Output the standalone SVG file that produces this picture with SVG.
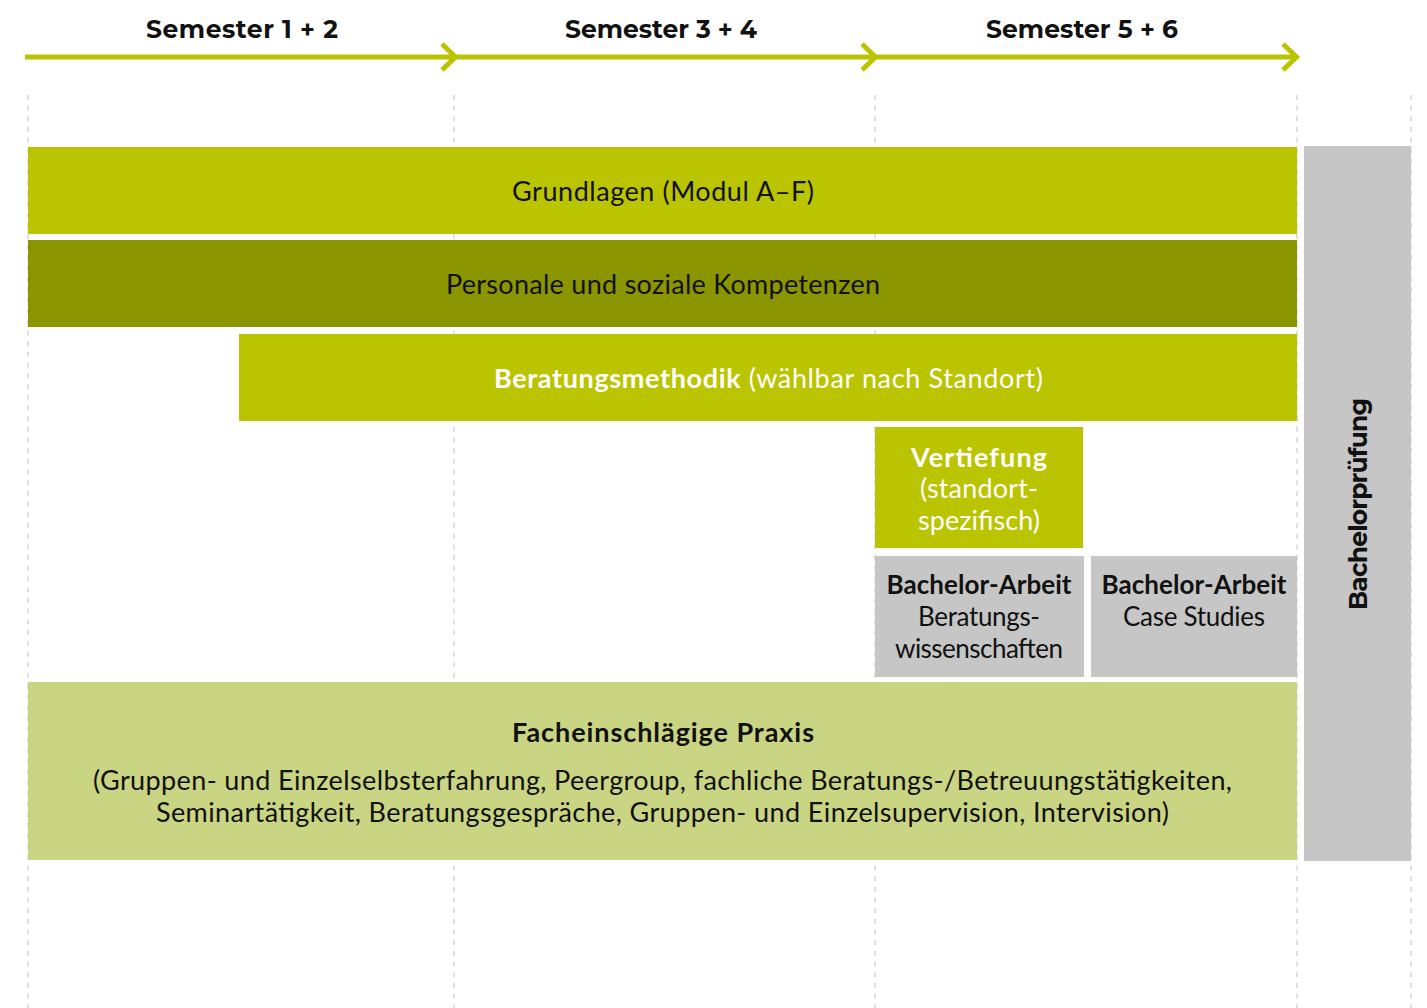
<svg xmlns="http://www.w3.org/2000/svg" width="1427" height="1008" viewBox="0 0 1427 1008">
<style>
.grid{stroke:#D3D3D3;stroke-width:1.4;stroke-dasharray:5 5.7;fill:none}
.arrow{stroke:#BAC400;stroke-width:5;fill:none}
.lime{fill:#BAC400}
.olive{fill:#8A9500}
.pale{fill:#CAD583}
.gray{fill:#C6C6C6}
text{font-family:Lato,"Noto Sans","Liberation Sans",sans-serif;font-size:27px;text-anchor:middle;fill:#111}
.sem{font-family:Montserrat,"Noto Sans","Liberation Sans",sans-serif;font-weight:bold;font-size:25px}
.b{font-weight:bold}
.w{fill:#fff}
.s26{font-size:26px}
</style>
<rect width="1427" height="1008" fill="#fff"/>
<g id="grid">
<line class="grid" x1="28" y1="95" x2="28" y2="1008"/>
<line class="grid" x1="454" y1="95" x2="454" y2="1008"/>
<line class="grid" x1="875" y1="95" x2="875" y2="1008"/>
<line class="grid" x1="1297" y1="95" x2="1297" y2="1008"/>
<line class="grid" x1="1411" y1="95" x2="1411" y2="1008"/>
</g>
<g id="connectors">
<line class="arrow" x1="25" y1="57" x2="1296" y2="57"/>
<polyline class="arrow" points="442,44 455.5,57 442,70"/>
<polyline class="arrow" points="862,44 875.5,57 862,70"/>
<polyline class="arrow" points="1283,44 1296.5,57 1283,70"/>
</g>
<g id="semester-labels">
<text class="sem" x="242" y="38" textLength="192">Semester 1 + 2</text>
<text class="sem" x="661" y="38" textLength="192">Semester 3 + 4</text>
<text class="sem" x="1082" y="38" textLength="192">Semester 5 + 6</text>
</g>
<g id="grundlagen">
<rect class="lime" x="28" y="147" width="1269" height="87"/>
<text x="663" y="201" textLength="302">Grundlagen (Modul A–F)</text>
</g>
<g id="personale">
<rect class="olive" x="28" y="240" width="1269" height="87"/>
<text x="663" y="294" textLength="434">Personale und soziale Kompetenzen</text>
</g>
<g id="beratungsmethodik">
<rect class="lime" x="239" y="334" width="1058" height="87"/>
<text x="768.5" y="388" class="w" textLength="549"><tspan class="b">Beratungsmethodik</tspan> (wählbar nach Standort)</text>
</g>
<g id="vertiefung">
<rect class="lime" x="875" y="427" width="208" height="121"/>
<text x="979" y="467" class="w b" textLength="136">Vertiefung</text>
<text x="979" y="498" class="w" textLength="118">(standort-</text>
<text x="979" y="530" class="w" textLength="122">spezifisch)</text>
</g>
<g id="bachelorarbeit-beratung">
<rect class="gray" x="875" y="556" width="209" height="121"/>
<text x="979" y="594" class="b s26" textLength="185">Bachelor-Arbeit</text>
<text x="979" y="626" class="s26" textLength="122">Beratungs-</text>
<text x="979" y="658" class="s26" textLength="168">wissenschaften</text>
</g>
<g id="bachelorarbeit-case">
<rect class="gray" x="1091" y="556" width="206" height="121"/>
<text x="1194" y="594" class="b s26" textLength="185">Bachelor-Arbeit</text>
<text x="1194" y="626" class="s26" textLength="142">Case Studies</text>
</g>
<g id="praxis">
<rect class="pale" x="28" y="682" width="1269" height="178"/>
<text x="663" y="742" class="b" textLength="302">Facheinschlägige Praxis</text>
<text x="662.5" y="790" textLength="1139">(Gruppen- und Einzelselbsterfahrung, Peergroup, fachliche Beratungs-/Betreuungstätigkeiten,</text>
<text x="662.5" y="822" textLength="1013">Seminartätigkeit, Beratungsgespräche, Gruppen- und Einzelsupervision, Intervision)</text>
</g>
<g id="bachelorpruefung">
<rect class="gray" x="1304" y="146" width="107" height="715"/>
<text class="sem" transform="translate(1367,504) rotate(-90)" x="0" y="0" textLength="212">Bachelorprüfung</text>
</g>
</svg>
